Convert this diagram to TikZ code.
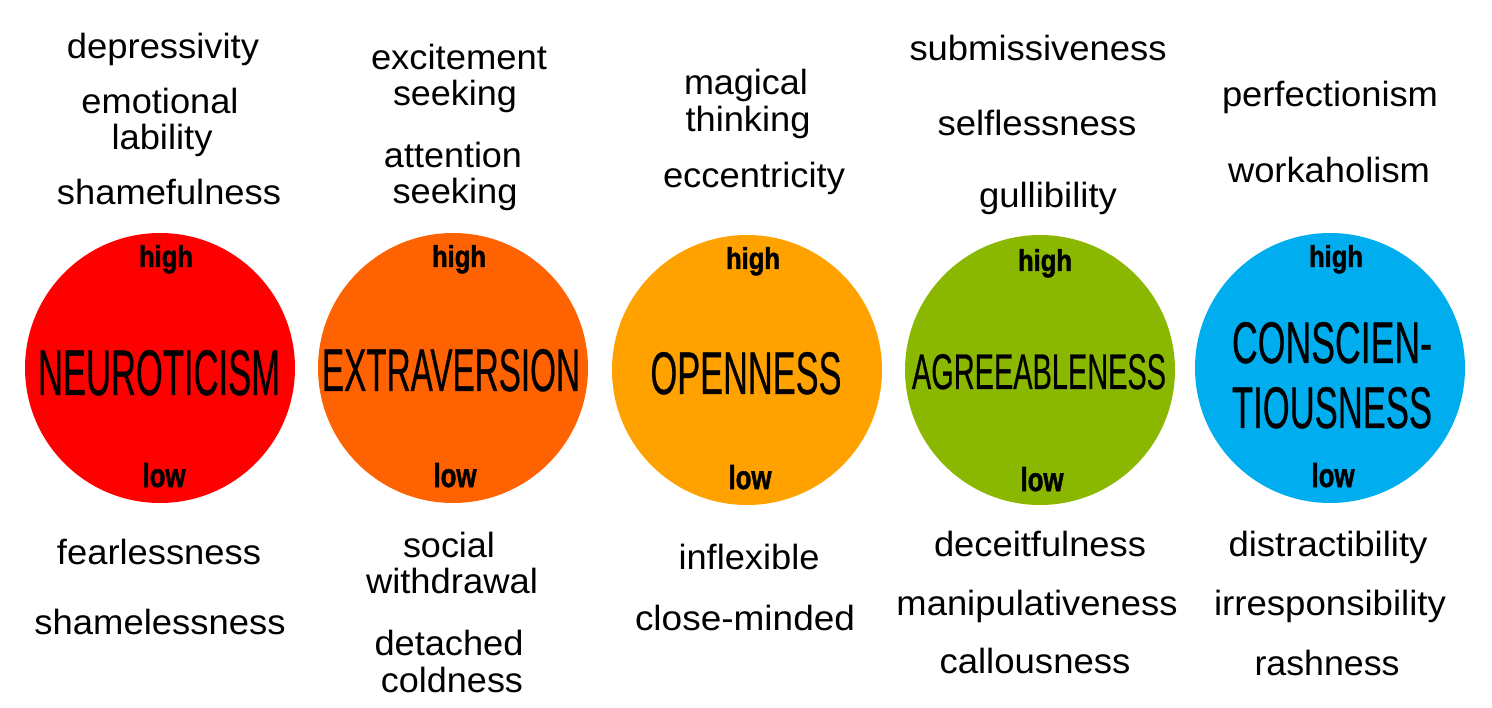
\documentclass[tikz,border=0pt]{standalone}
\usepackage{fontspec}
\usepackage{graphicx}
\setmainfont{Liberation Sans}
\newfontfamily\heavyfont[FakeBold=1.6]{Liberation Sans Bold}
\newfontfamily\namefont[FakeBold=0.6]{Liberation Sans}
\definecolor{cN}{HTML}{FF0000}
\definecolor{cE}{HTML}{FF6200}
\definecolor{cO}{HTML}{FFA200}
\definecolor{cA}{HTML}{8AB800}
\definecolor{cC}{HTML}{00AEEF}
\newcommand\tw[2]{\resizebox{#1pt}{\height}{#2}}
\newcommand\twh[3]{\resizebox{#1pt}{#2pt}{#3}}
\begin{document}
\begin{tikzpicture}[x=1pt,y=-1pt,
  trait/.style={circle,inner sep=0pt,minimum size=270pt},
  lbl/.style={anchor=base,inner sep=0pt,font=\fontsize{35}{35}\selectfont},
  big/.style={anchor=base,inner sep=0pt,font=\namefont\fontsize{40}{40}\selectfont},
  hl/.style={anchor=base,inner sep=0pt,font=\heavyfont\fontsize{24}{24}\selectfont}]
\useasboundingbox[fill=white] (0,0) rectangle (1492,708);
% circles
\node[trait,fill=cN] (N) at (160,368) {};
\node[trait,fill=cE] (E) at (453,368) {};
\node[trait,fill=cO] (O) at (747,370) {};
\node[trait,fill=cA] (A) at (1040,370) {};
\node[trait,fill=cC] (C) at (1330,368) {};
% names
\node[big] (Nt) at (159,395) {\twh{242}{45}{NEUROTICISM}};
\node[big] (Et) at (451,391) {\twh{258}{42}{EXTRAVERSION}};
\node[big] (Ot) at (746,394) {\twh{191}{42}{OPENNESS}};
\node[big] (At) at (1039,389) {\twh{254}{35}{AGREEABLENESS}};
\node[big] (Ct1) at (1332,363) {\twh{200}{41}{CONSCIEN-}};
\node[big] (Ct2) at (1332,428) {\twh{200}{41}{TIOUSNESS}};
% high / low
\node[hl] (Nh) at (166,267) {\twh{54}{22}{high}};
\node[hl] (Nl) at (164,487) {\twh{43}{24}{low}};
\node[hl] (Eh) at (459,267) {\twh{54}{22}{high}};
\node[hl] (El) at (455,487) {\twh{43}{24}{low}};
\node[hl] (Oh) at (753,269) {\twh{54}{22}{high}};
\node[hl] (Ol) at (750,489) {\twh{43}{24}{low}};
\node[hl] (Ah) at (1045,271) {\twh{54}{22}{high}};
\node[hl] (Al) at (1042,491) {\twh{43}{24}{low}};
\node[hl] (Ch) at (1336,267) {\twh{54}{22}{high}};
\node[hl] (Cl) at (1333,487) {\twh{43}{24}{low}};
% top words
\node[lbl] (n1) at (163,59) {\tw{192}{depressivity}};
\node[lbl] (n2) at (160,114) {\tw{157}{emotional}};
\node[lbl] (n3) at (162,150) {\tw{101}{lability}};
\node[lbl] (n4) at (169,205) {\tw{224}{shamefulness}};
\node[lbl] (e1) at (459,70) {\tw{176}{excitement}};
\node[lbl] (e2) at (455,106) {\tw{124}{seeking}};
\node[lbl] (e3) at (453,168) {\tw{138}{attention}};
\node[lbl] (e4) at (455,204) {\tw{125}{seeking}};
\node[lbl] (o1) at (746,95) {\tw{124}{magical}};
\node[lbl] (o2) at (748,132) {\tw{125}{thinking}};
\node[lbl] (o3) at (754,188) {\tw{182}{eccentricity}};
\node[lbl] (a1) at (1038,61) {\tw{257}{submissiveness}};
\node[lbl] (a2) at (1037,136) {\tw{199}{selflessness}};
\node[lbl] (a3) at (1048,208) {\tw{138}{gullibility}};
\node[lbl] (c1) at (1330,107) {\tw{216}{perfectionism}};
\node[lbl] (c2) at (1329,183) {\tw{202}{workaholism}};
% bottom words
\node[lbl] (n5) at (159,564) {\tw{204}{fearlessness}};
\node[lbl] (n6) at (160,634) {\tw{251}{shamelessness}};
\node[lbl] (e5) at (449,557) {\tw{92}{social}};
\node[lbl] (e6) at (452,593) {\tw{172}{withdrawal}};
\node[lbl] (e7) at (449,655) {\tw{149}{detached}};
\node[lbl] (e8) at (452,692) {\tw{142}{coldness}};
\node[lbl] (o4) at (749,569) {\tw{141}{inflexible}};
\node[lbl] (o5) at (745,630) {\tw{220}{close-minded}};
\node[lbl] (a4) at (1040,556) {\tw{212}{deceitfulness}};
\node[lbl] (a5) at (1037,615) {\tw{281}{manipulativeness}};
\node[lbl] (a6) at (1035,673) {\tw{191}{callousness}};
\node[lbl] (c3) at (1328,556) {\tw{199}{distractibility}};
\node[lbl] (c4) at (1330,615) {\tw{232}{irresponsibility}};
\node[lbl] (c5) at (1327,675) {\tw{145}{rashness}};
\end{tikzpicture}
\end{document}
